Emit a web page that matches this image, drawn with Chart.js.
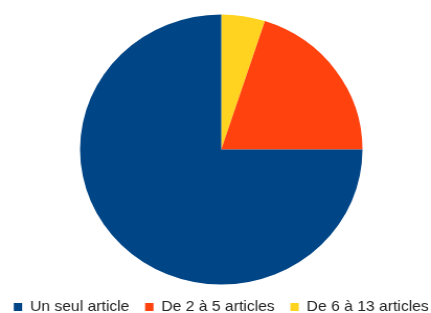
<!DOCTYPE html>
<html>
<head>
<meta charset="utf-8">
<script src="https://cdn.jsdelivr.net/npm/chart.js@4/dist/chart.umd.min.js"></script>
<style>
  html, body { margin: 0; padding: 0; background: #fff; overflow: hidden; }
  /* the reference is a touch wider than tall, so stretch the canvas a bit */
  .wrap { width: 412px; height: 313px; transform: scaleX(1.0461); transform-origin: 0 0; }
</style>
</head>
<body>
<div class="wrap"><canvas id="chart-articles" width="412" height="313"></canvas></div>
<script>
// données
const categories = ["Un seul article", "De 2 à 5 articles", "De 6 à 13 articles"];
const shares = [75, 20, 5];
const sliceColors = ["#004586", "#ff420e", "#ffd320"];

const LEGEND_H = 28.5;
const LEGEND_SPREAD = 30;

// légende sur une seule ligne, plus basse que la hauteur par défaut
const legendFitPlugin = {
  id: "legendFit",
  beforeLayout(chart) {
    const lg = chart.legend;
    if (!lg || lg._patched) return;
    const fit = lg.fit;
    lg.fit = function () {
      const mw = this.maxWidth;
      this.maxWidth = 2000; // pas de retour à la ligne
      fit.call(this);
      this.maxWidth = mw;
      this.width = mw;
      this.height = LEGEND_H;
    };
    lg._patched = true;
  },
  afterLayout(chart) {
    // élargir la boîte des deux côtés (le centre ne bouge pas)
    const lg = chart.legend;
    if (!lg) return;
    lg.left -= LEGEND_SPREAD;
    lg.right += LEGEND_SPREAD;
  },
};

// LibreOffice tourne dans le sens anti-horaire : on inverse l'ordre des parts
const ctx = document.getElementById("chart-articles");
new Chart(ctx, {
  type: "pie",
  data: {
    labels: [...categories].reverse(),
    datasets: [
      {
        data: [...shares].reverse(),
        backgroundColor: [...sliceColors].reverse(),
        borderWidth: 0,
      },
    ],
  },
  options: {
    responsive: false,
    devicePixelRatio: 1,
    animation: false,
    layout: { padding: { top: 14.5, left: 11, right: 0, bottom: 0 } },
    plugins: {
      tooltip: { enabled: false },
      legend: {
        position: "bottom",
        labels: {
          boxWidth: 8,
          boxHeight: 8,
          padding: 15,
          color: "#222",
          font: { family: "Liberation Sans", size: 15 },
          sort: (a, b) => b.index - a.index,
        },
      },
    },
  },
  plugins: [legendFitPlugin],
});
</script>
</body>
</html>
